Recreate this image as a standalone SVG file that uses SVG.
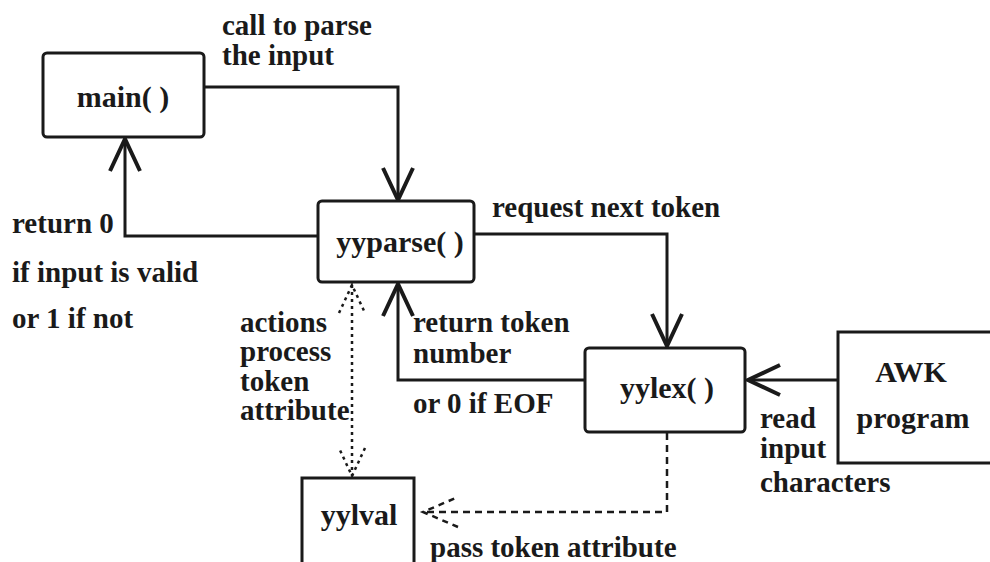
<svg xmlns="http://www.w3.org/2000/svg" width="990" height="562" viewBox="0 0 990 562">
  <style>
    .box { fill: #ffffff; stroke: #1a1a1a; stroke-width: 3; }
    .title { font-family: "Liberation Serif", "Times New Roman", serif; font-weight: bold; font-size: 30px; fill: #1a1a1a; text-anchor: middle; }
    .lbl { font-family: "Liberation Serif", "Times New Roman", serif; font-weight: bold; font-size: 29px; fill: #1a1a1a; }
    .wire { fill: none; stroke: #1a1a1a; stroke-width: 3; }
    .dot { fill: none; stroke: #1a1a1a; stroke-width: 2.5; stroke-dasharray: 3 4; }
    .dash { fill: none; stroke: #1a1a1a; stroke-width: 2.5; stroke-dasharray: 7 5; }
  </style>
  <defs>
    <!-- open V arrowhead for solid calls -->
    <marker id="vee" markerUnits="userSpaceOnUse" viewBox="-36 -18 40 36" markerWidth="40" markerHeight="36" refX="0" refY="0" orient="auto" overflow="visible">
      <path d="M-32,-15 L0,0 L-32,15" fill="none" stroke="#1a1a1a" stroke-width="4" stroke-linejoin="miter"/>
    </marker>
    <!-- dotted V arrowhead for data access -->
    <marker id="vee-dot" markerUnits="userSpaceOnUse" viewBox="-32 -16 36 32" markerWidth="36" markerHeight="32" refX="0" refY="0" orient="auto-start-reverse" overflow="visible">
      <path d="M-28,-13 L0,0 L-28,13" fill="none" stroke="#1a1a1a" stroke-width="2.5" stroke-dasharray="3 4"/>
    </marker>
    <!-- dashed V arrowhead -->
    <marker id="vee-dash" markerUnits="userSpaceOnUse" viewBox="-38 -18 42 36" markerWidth="42" markerHeight="36" refX="0" refY="0" orient="auto" overflow="visible">
      <path d="M-35,-15 L0,0 L-35,15" fill="none" stroke="#1a1a1a" stroke-width="2.5" stroke-dasharray="6 5"/>
    </marker>
  </defs>

  <rect width="990" height="562" fill="#ffffff"/>

  <g id="connectors">
    <path class="wire" d="M204,87 H398 V200" marker-end="url(#vee)"/>
    <path class="wire" d="M318,236 H125 V139" marker-end="url(#vee)"/>
    <path class="wire" d="M474,234 H667 V346" marker-end="url(#vee)"/>
    <path class="wire" d="M585,380 H398 V284" marker-end="url(#vee)"/>
    <path class="wire" d="M838,380 H748" marker-end="url(#vee)"/>
    <path class="dot" d="M352,285 V476" marker-start="url(#vee-dot)" marker-end="url(#vee-dot)"/>
    <path class="dash" d="M667,433 V512 H423" marker-end="url(#vee-dash)"/>
  </g>

  <g id="main">
    <rect class="box" x="43" y="53" width="161" height="84" rx="4"/>
    <text class="title" x="123" y="107">main( )</text>
  </g>

  <g id="yyparse">
    <rect class="box" x="318" y="201" width="156" height="81" rx="4"/>
    <text class="title" x="400" y="252">yyparse( )</text>
  </g>

  <g id="yylex">
    <rect class="box" x="585" y="348" width="160" height="84" rx="4"/>
    <text class="title" x="667" y="398">yylex( )</text>
  </g>

  <g id="awk">
    <rect class="box" x="838" y="332" width="160" height="131"/>
    <text class="title" x="911" y="382">AWK</text>
    <text class="title" x="913" y="428">program</text>
  </g>

  <g id="yylval">
    <rect class="box" x="302" y="478" width="112" height="100"/>
    <text class="title" x="359" y="525">yylval</text>
  </g>

  <g id="labels">
    <text class="lbl" x="222" y="35">call to parse</text>
    <text class="lbl" x="222" y="65">the input</text>
    <text class="lbl" x="12" y="233">return 0</text>
    <text class="lbl" x="12" y="282">if input is valid</text>
    <text class="lbl" x="12" y="328">or 1 if not</text>
    <text class="lbl" x="492" y="217" font-size="28">request next token</text>
    <text class="lbl" x="240" y="332">actions</text>
    <text class="lbl" x="240" y="361">process</text>
    <text class="lbl" x="240" y="391">token</text>
    <text class="lbl" x="240" y="420">attribute</text>
    <text class="lbl" x="413" y="332">return token</text>
    <text class="lbl" x="413" y="363">number</text>
    <text class="lbl" x="413" y="413">or 0 if EOF</text>
    <text class="lbl" x="760" y="428">read</text>
    <text class="lbl" x="760" y="458">input</text>
    <text class="lbl" x="760" y="492">characters</text>
    <text class="lbl" x="430" y="557">pass token attribute</text>
  </g>
</svg>
